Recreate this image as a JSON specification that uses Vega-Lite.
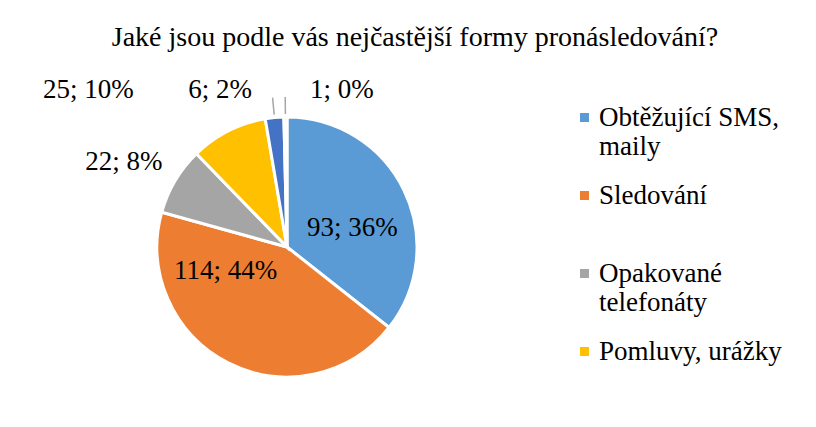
{
  "$schema": "https://vega.github.io/schema/vega-lite/v6.json",
  "width": 574,
  "height": 354,
  "autosize": {"type": "none"},
  "padding": {"left": 0, "top": 70, "right": 242, "bottom": 3},
  "background": "white",
  "config": {"view": {"stroke": null}},
  "title": {
    "text": "Jaké jsou podle vás nejčastější formy pronásledování?",
    "font": "Liberation Serif",
    "fontSize": 28,
    "fontWeight": "normal",
    "color": "#000000",
    "anchor": "middle",
    "dx": 128,
    "dy": 51
  },
  "data": {
    "values": [
      {"cat": "Obtěžující SMS, maily", "count": 93, "label": "93; 36%", "order": 1},
      {"cat": "Sledování", "count": 114, "label": "114; 44%", "order": 2},
      {"cat": "Opakované telefonáty", "count": 22, "label": "22; 8%", "order": 3},
      {"cat": "Pomluvy, urážky", "count": 25, "label": "25; 10%", "order": 4},
      {"cat": "Výhrůžky", "count": 6, "label": "6; 2%", "order": 5},
      {"cat": "Jiné", "count": 1, "label": "1; 0%", "order": 6}
    ]
  },
  "encoding": {
    "theta": {"field": "count", "type": "quantitative", "stack": true},
    "order": {"field": "order", "type": "quantitative"}
  },
  "layer": [
    {
      "mark": {"type": "arc", "outerRadius": 130, "stroke": "white", "strokeWidth": 3},
      "encoding": {
        "color": {
          "field": "cat",
          "type": "nominal",
          "scale": {
            "domain": ["Obtěžující SMS, maily", "Sledování", "Opakované telefonáty", "Pomluvy, urážky", "Výhrůžky", "Jiné"],
            "range": ["#5B9BD5", "#ED7D31", "#A5A5A5", "#FFC000", "#4472C4", "#70AD47"]
          },
          "legend": {
            "orient": "none",
            "legendX": 571,
            "legendY": 34,
            "title": null,
            "values": ["Obtěžující SMS, maily", "Sledování", "Opakované telefonáty", "Pomluvy, urážky"],
            "symbolType": "square",
            "symbolSize": 81,
            "symbolStrokeWidth": 0,
            "labelFont": "Liberation Serif",
            "labelFontSize": 27,
            "labelColor": "#000000",
            "labelOffset": 1,
            "labelLimit": 300,
            "rowPadding": 21,
            "gridAlign": "all",
            "labelExpr": "datum.label == 'Obtěžující SMS, maily' ? ['Obtěžující SMS,', 'maily'] : datum.label == 'Opakované telefonáty' ? ['Opakované', 'telefonáty'] : datum.label",
            "encoding": {"labels": {"update": {"lineHeight": {"value": 29}}}}
          }
        }
      }
    },
    {
      "mark": {"type": "arc", "innerRadius": 133, "outerRadius": 150, "padAngle": 0.3, "filled": false, "stroke": "#A6A6A6", "strokeWidth": 1.5},
      "encoding": {"strokeOpacity": {"condition": {"test": "datum.cat === 'Výhrůžky' || datum.cat === 'Jiné'", "value": 1}, "value": 0}}
    },
    {
      "mark": {"type": "text", "radius": 68, "thetaOffset": 0.168, "font": "Liberation Serif", "fontSize": 27, "color": "#000000"},
      "encoding": {"text": {"condition": {"test": "datum.cat === 'Obtěžující SMS, maily'", "field": "label"}, "value": ""}}
    },
    {
      "mark": {"type": "text", "radius": 66, "thetaOffset": 0.726, "font": "Liberation Serif", "fontSize": 27, "color": "#000000"},
      "encoding": {"text": {"condition": {"test": "datum.cat === 'Sledování'", "field": "label"}, "value": ""}}
    },
    {
      "mark": {"type": "text", "radius": 184, "thetaOffset": -0.056, "font": "Liberation Serif", "fontSize": 27, "color": "#000000"},
      "encoding": {"text": {"condition": {"test": "datum.cat === 'Opakované telefonáty'", "field": "label"}, "value": ""}}
    },
    {
      "mark": {"type": "text", "radius": 253, "thetaOffset": -0.433, "font": "Liberation Serif", "fontSize": 27, "color": "#000000"},
      "encoding": {"text": {"condition": {"test": "datum.cat === 'Pomluvy, urážky'", "field": "label"}, "value": ""}}
    },
    {
      "mark": {"type": "text", "radius": 171, "thetaOffset": -0.305, "font": "Liberation Serif", "fontSize": 27, "color": "#000000"},
      "encoding": {"text": {"condition": {"test": "datum.cat === 'Výhrůžky'", "field": "label"}, "value": ""}}
    },
    {
      "mark": {"type": "text", "radius": 166, "thetaOffset": 0.349, "font": "Liberation Serif", "fontSize": 27, "color": "#000000"},
      "encoding": {"text": {"condition": {"test": "datum.cat === 'Jiné'", "field": "label"}, "value": ""}}
    }
  ]
}
